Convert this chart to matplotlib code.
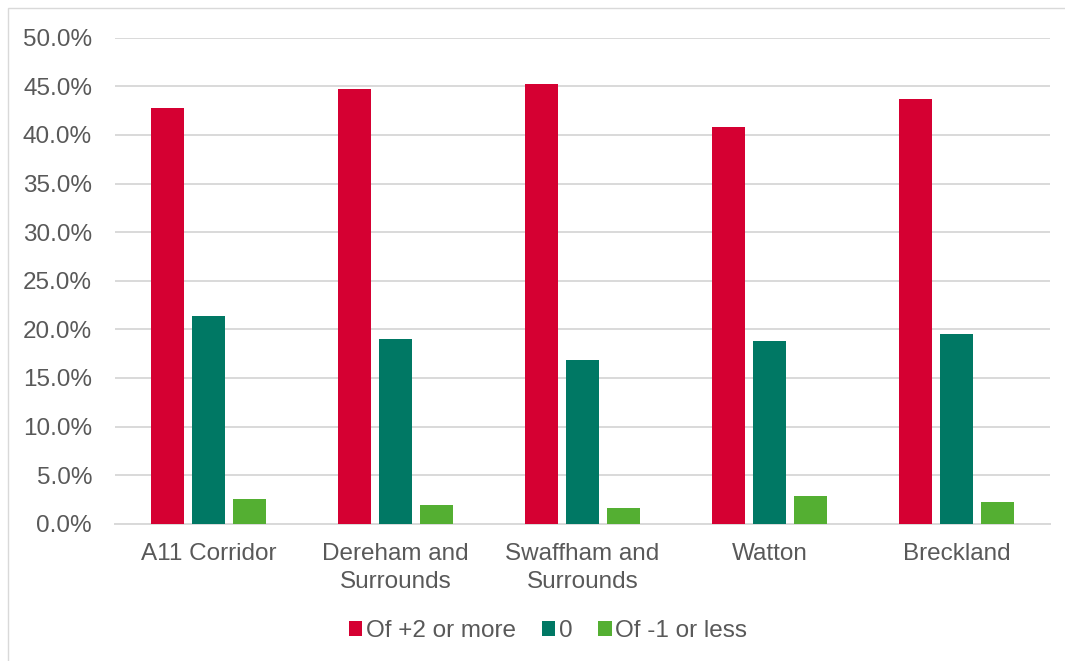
import matplotlib
matplotlib.use("Agg")
import matplotlib.pyplot as plt
import numpy as np
from matplotlib.patches import Rectangle
from matplotlib.ticker import FuncFormatter

categories = ["A11 Corridor", "Dereham and\nSurrounds", "Swaffham and\nSurrounds", "Watton", "Breckland"]
series_names = ["Of +2 or more", "0", "Of -1 or less"]
plus2 = [42.8, 44.7, 45.2, 40.8, 43.7]
zero = [21.4, 19.0, 16.8, 18.8, 19.5]
minus1 = [2.5, 1.9, 1.6, 2.8, 2.2]
colors = ["#D50032", "#007864", "#54AF32"]

plt.rcParams['font.family'] = ['Liberation Sans', 'DejaVu Sans']
W, H, DPI = 1065, 661, 100
fig = plt.figure(figsize=(W / DPI, H / DPI), dpi=DPI)
fig.patch.set_facecolor("white")

# outer chart border (only top/left visible)
fig.patches.append(Rectangle((8 / W, -0.1), 1.2, (H - 8) / H + 0.1, transform=fig.transFigure,
                             fill=False, edgecolor="#d9d9d9", linewidth=1.0))

left, right = 115 / W, 1050 / W
bottom, top = 1 - 523.7 / H, 1 - 37.7 / H
ax = fig.add_axes([left, bottom, right - left, top - bottom])

FS = 17.5
x = np.arange(len(categories))
bw = 33 / 187
off = 41 / 187
data = [plus2, zero, minus1]
handles = []
for i, (vals, c, n) in enumerate(zip(data, colors, series_names)):
    b = ax.bar(x + (i - 1) * off, vals, width=bw, color=c, label=n, zorder=3)
    handles.append(b)

ax.set_xlim(-0.5, len(categories) - 0.5)
ax.set_ylim(0, 50)
ax.set_yticks(np.arange(0, 50.1, 5))
ax.yaxis.set_major_formatter(FuncFormatter(lambda v, p: f"{v:.1f}%"))
ax.grid(axis='y', color="#d9d9d9", linewidth=1.4, zorder=0)
ax.set_axisbelow(True)
for s in ["top", "right", "left"]:
    ax.spines[s].set_visible(False)
ax.spines["bottom"].set_color("#d9d9d9")
ax.spines["bottom"].set_linewidth(1.4)
ax.tick_params(axis='y', length=0, pad=16.5, labelsize=FS, labelcolor="#595959")
ax.tick_params(axis='x', length=0, pad=14, labelsize=FS, labelcolor="#595959")
ax.set_xticks(x)
ax.set_xticklabels(categories, linespacing=1.33)

fig.legend(handles=handles, labels=series_names, loc="center", bbox_to_anchor=(548 / W, 1 - 631 / H),
           ncol=3, frameon=False, fontsize=FS, labelcolor="#595959", handlelength=0.55,
           handleheight=0.55, handletextpad=0.15, columnspacing=1.07)

fig.savefig("out.png", dpi=DPI, facecolor="white")
